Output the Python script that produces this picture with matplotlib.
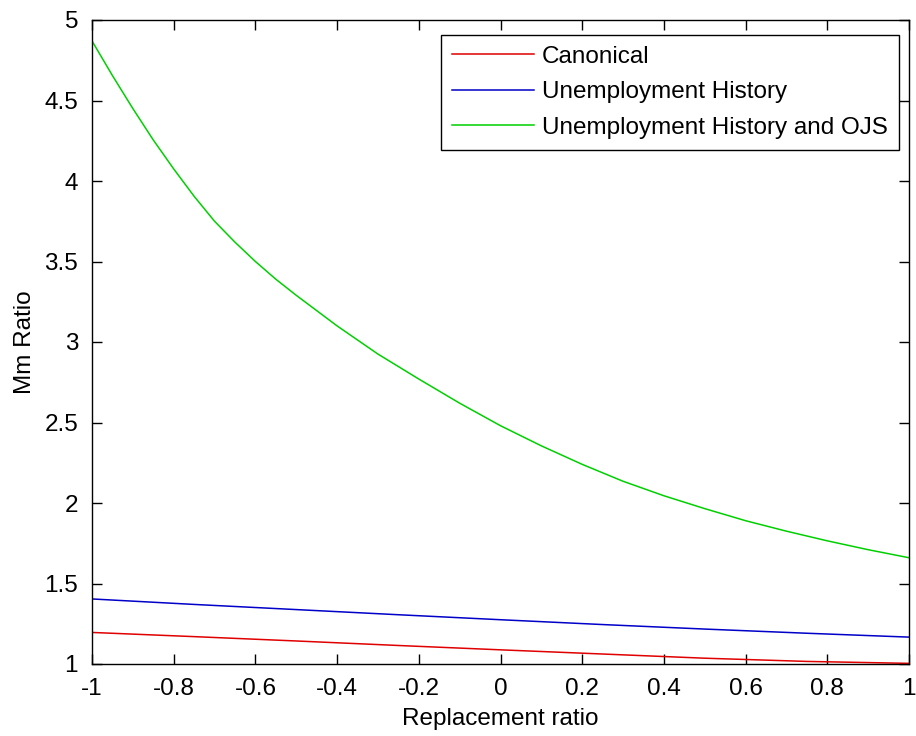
"""
Mm ratio vs replacement ratio
"""
import matplotlib
matplotlib.use('Agg')
import matplotlib.pyplot as plt

# values
x_green = [-1.0, -0.95, -0.9, -0.85, -0.8, -0.75, -0.7, -0.65, -0.6, -0.55,
           -0.5, -0.4, -0.3, -0.2, -0.1, 0.0, 0.1, 0.2, 0.3, 0.4, 0.5,
           0.6, 0.7, 0.8, 0.9, 1.0]
ojs = [4.87, 4.655, 4.45, 4.255, 4.075, 3.905, 3.75, 3.62, 3.50, 3.39,
       3.29, 3.10, 2.925, 2.77, 2.62, 2.48, 2.355, 2.24, 2.135, 2.045, 1.965,
       1.89, 1.825, 1.765, 1.71, 1.66]

x_lin = [-1.0, -0.75, -0.5, -0.25, 0.0, 0.25, 0.5, 0.75, 1.0]
history = [1.404, 1.370, 1.338, 1.306, 1.275, 1.245, 1.217, 1.191, 1.167]
canonical = [1.196, 1.170, 1.143, 1.115, 1.088, 1.062, 1.036, 1.016, 1.004]

labels = ['Canonical', 'Unemployment History', 'Unemployment History and OJS']

plt.rcParams['font.family'] = ['Liberation Sans', 'DejaVu Sans']
FS = 17.5

fig = plt.figure(figsize=(9.16, 7.36), dpi=100)
ax = fig.add_axes([92 / 916, 72 / 736, 817 / 916, 644 / 736])

ax.plot(x_lin, canonical, color='#e00000', lw=1.1, label=labels[0])
ax.plot(x_lin, history, color='#0000c8', lw=1.1, label=labels[1])
ax.plot(x_green, ojs, color='#00d000', lw=1.1, label=labels[2])

ax.set_xlim(-1, 1)
ax.set_ylim(1, 5)
ax.set_xticks([-1, -0.8, -0.6, -0.4, -0.2, 0, 0.2, 0.4, 0.6, 0.8, 1])
ax.set_xticklabels(['-1', '-0.8', '-0.6', '-0.4', '-0.2', '0',
                    '0.2', '0.4', '0.6', '0.8', '1'])
ax.set_yticks([1, 1.5, 2, 2.5, 3, 3.5, 4, 4.5, 5])
ax.set_yticklabels(['1', '1.5', '2', '2.5', '3', '3.5', '4', '4.5', '5'])
ax.tick_params(direction='in', top=True, right=True, length=7, width=1,
               labelsize=FS)
ax.tick_params(axis='x', pad=10)
ax.tick_params(axis='y', pad=10)
for sp in ax.spines.values():
    sp.set_linewidth(1)

ax.set_xlabel('Replacement ratio', fontsize=FS, labelpad=6)
ax.set_ylabel('Mm Ratio', fontsize=FS, labelpad=6)

leg = ax.legend(loc='upper right', bbox_to_anchor=(0.9878, 0.9767),
                borderaxespad=0, fontsize=FS, fancybox=False, framealpha=1,
                edgecolor='black', handlelength=3.4, handletextpad=0.33,
                borderpad=0.45, labelspacing=0.55)
leg.get_frame().set_linewidth(1)

fig.savefig('out.png', dpi=100)
